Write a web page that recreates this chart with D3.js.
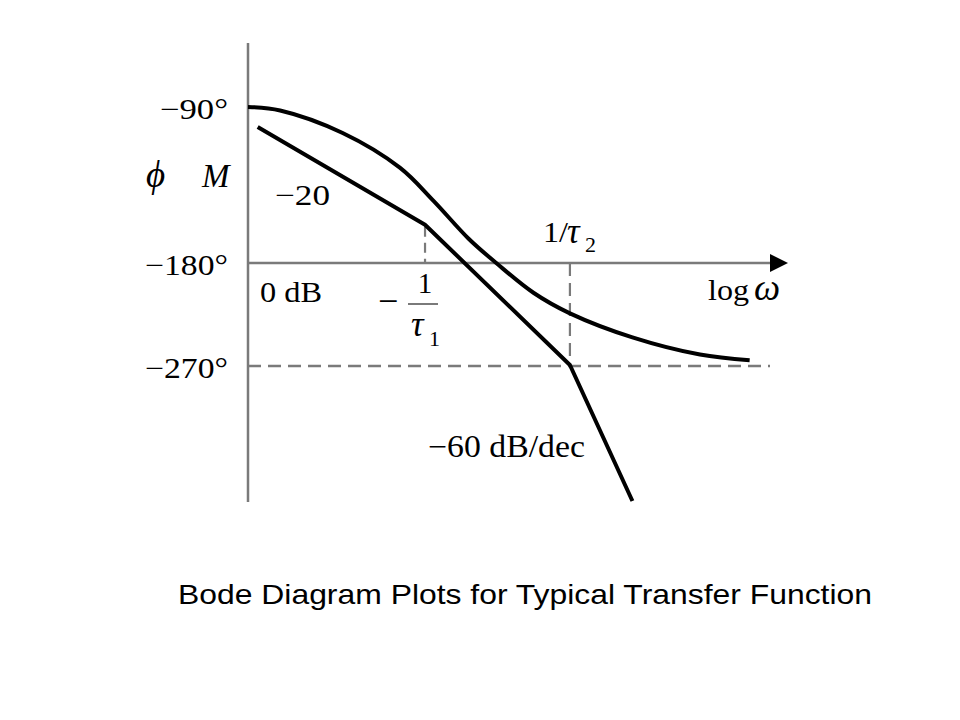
<!DOCTYPE html>
<html><head><meta charset="utf-8">
<script src="https://cdnjs.cloudflare.com/ajax/libs/d3/7.8.5/d3.min.js"></script>
<style>html,body{margin:0;padding:0;background:#fff;}svg{display:block;}</style>
</head><body>
<script>
// ---- data ----
const omegaPhase = [0.06, 0.1, 0.27, 0.67, 1.14, 2.0, 3.1, 5.6, 10, 27, 79, 174];
const phaseDeg   = [-90, -92, -105, -125, -144, -166, -180, -206, -224, -245, -260, -265];
const omegaMag   = [0.07, 1, 10, 27];
const magDb      = [32, 9, -24, -56];
const cornerFreqs = [1, 10];           // 1/tau1, 1/tau2
const phaseTicks = [-90, -180, -270];
const phaseTickLabels = ["\u221290\u00b0", "\u2212180\u00b0", "\u2212270\u00b0"];
const titleText = "Bode Diagram Plots for Typical Transfer Function";

const W = 960, H = 720;
const svg = d3.select("body").append("svg").attr("width", W).attr("height", H);

const x = d3.scaleLog().domain([0.06, 320]).range([248, 788]);
const yPhase = d3.scaleLinear().domain([-90, -180, -270]).range([107, 263, 366]);
const yMag = d3.scaleLinear().domain([-60, 40]).range([518, 93]);

const gray = "#7a7a7a";
const serif = "'Liberation Serif','Times New Roman',serif";

// vertical axis
svg.append("line").attr("x1", x(0.06)).attr("x2", x(0.06)).attr("y1", 43).attr("y2", 502)
  .attr("stroke", gray).attr("stroke-width", 2.5);
// horizontal axis (0 dB / -180 deg)
const xEndLine = x(320) - 18;
svg.append("line").attr("x1", x(0.06)).attr("x2", xEndLine).attr("y1", yPhase(-180)).attr("y2", yPhase(-180))
  .attr("stroke", gray).attr("stroke-width", 2.5);
svg.append("path")
  .attr("d", `M${xEndLine},${yPhase(-180) - 9}L${x(320)},${yPhase(-180)}L${xEndLine},${yPhase(-180) + 9}Z`)
  .attr("fill", "#000");
// -270 dashed
svg.append("line").attr("x1", x(0.06)).attr("x2", xEndLine).attr("y1", yPhase(-270)).attr("y2", yPhase(-270))
  .attr("stroke", gray).attr("stroke-width", 2.5).attr("stroke-dasharray", "13,7");
// corner dashed verticals
svg.append("line").attr("x1", x(cornerFreqs[0])).attr("x2", x(cornerFreqs[0]))
  .attr("y1", yMag(magDb[1]) + 2).attr("y2", yPhase(-180))
  .attr("stroke", gray).attr("stroke-width", 2.2).attr("stroke-dasharray", "10,6");
svg.append("line").attr("x1", x(cornerFreqs[1])).attr("x2", x(cornerFreqs[1]))
  .attr("y1", yPhase(-180)).attr("y2", yPhase(-270))
  .attr("stroke", gray).attr("stroke-width", 2.2).attr("stroke-dasharray", "13,7");

// phase curve
const phasePts = omegaPhase.map((w, i) => [x(w), yPhase(phaseDeg[i])]);
svg.append("path").attr("d", d3.line().curve(d3.curveCatmullRom)(phasePts))
  .attr("fill", "none").attr("stroke", "#000").attr("stroke-width", 4);
// magnitude asymptotes
const magPts = omegaMag.map((w, i) => [x(w), yMag(magDb[i])]);
svg.append("path").attr("d", d3.line()(magPts))
  .attr("fill", "none").attr("stroke", "#000").attr("stroke-width", 4).attr("stroke-linejoin", "round");

function txt(xp, yp, s, size, opts = {}) {
  const t = svg.append("text").attr("x", xp).attr("y", yp)
    .attr("font-family", opts.family || serif).attr("font-size", size).attr("fill", "#000");
  if (opts.italic) t.attr("font-style", "italic");
  if (opts.anchor) t.attr("text-anchor", opts.anchor);
  if (opts.len) t.attr("textLength", opts.len).attr("lengthAdjust", "spacingAndGlyphs");
  t.text(s);
  return t;
}

// tick labels
const tickLens = [68, 83, 83];
phaseTicks.forEach((t, i) => {
  txt(228 - tickLens[i], yPhase(t) + 12, phaseTickLabels[i], 29, {len: tickLens[i]});
});

txt(146, 187, "\u03d5", 37, {italic: true});
txt(202, 187, "M", 33, {italic: true});
txt(275, 205, "\u221220", 29, {len: 55});
txt(260, 302, "0 dB", 29, {len: 62});
txt(378, 313, "\u2212", 36);
txt(x(cornerFreqs[0]), 293, "1", 29, {anchor: "middle"});
svg.append("line").attr("x1", 408).attr("x2", 438).attr("y1", 304).attr("y2", 304)
  .attr("stroke", gray).attr("stroke-width", 2);
txt(411, 336, "\u03c4", 35, {italic: true});
txt(429, 346, "1", 22);
txt(543, 242, "1/", 29, {len: 25});
txt(567, 243, "\u03c4", 35, {italic: true});
txt(585, 252, "2", 22);
txt(708, 300, "log", 29, {len: 41});
txt(754, 300, "\u03c9", 37, {italic: true});
txt(428, 457, "\u221260 dB/dec", 31, {len: 157});

// title
txt(178, 604, titleText, 28, {family: "'Liberation Sans',Arial,sans-serif", len: 694});
</script>
</body></html>
